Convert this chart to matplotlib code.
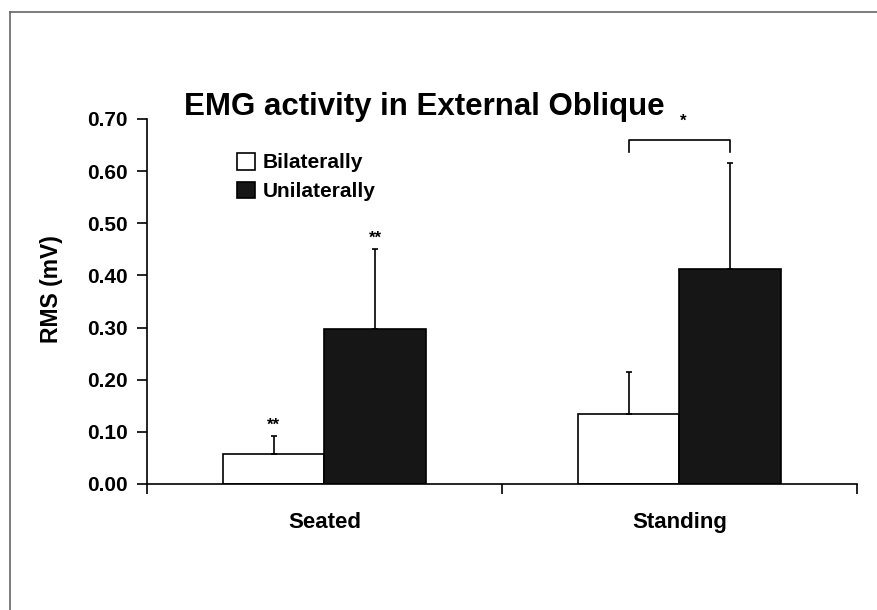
import matplotlib.pyplot as plt
import numpy as np
from matplotlib.lines import Line2D

plt.rcParams['font.family'] = ['Liberation Sans', 'DejaVu Sans']
plt.rcParams['font.weight'] = 'bold'

conditions = ['Seated', 'Standing']
groups = ['Bilaterally', 'Unilaterally']
bilateral = [0.057, 0.135]
unilateral = [0.297, 0.412]
bilateral_sd = [0.035, 0.080]
unilateral_sd = [0.154, 0.204]
yticks = [0.0, 0.1, 0.2, 0.3, 0.4, 0.5, 0.6, 0.7]

fig = plt.figure(figsize=(8.77, 6.10), dpi=100)
ax = fig.add_axes([0.1676, 0.2066, 0.8096, 0.5984])

# outer frame lines (left and top only)
fig.add_artist(Line2D([0.0114, 0.0114], [0.0, 0.9803], color='#666666', lw=1.2))
fig.add_artist(Line2D([0.0114, 1.0], [0.9803, 0.9803], color='#666666', lw=1.2))

centers = np.arange(len(conditions)) + 0.5
w = 0.285
x_bil = centers - w / 2
x_uni = centers + w / 2

b1 = ax.bar(x_bil, bilateral, w, color='white', edgecolor='black', lw=1.2, label=groups[0])
b2 = ax.bar(x_uni, unilateral, w, color='#161616', edgecolor='black', lw=1.2, label=groups[1])
ax.errorbar(x_bil, bilateral, yerr=[np.zeros(2), bilateral_sd], fmt='none',
            ecolor='black', elinewidth=1.2, capsize=2, capthick=1.2)
ax.errorbar(x_uni, unilateral, yerr=[np.zeros(2), unilateral_sd], fmt='none',
            ecolor='black', elinewidth=1.2, capsize=2, capthick=1.2)

# significance marks over the seated bars
tops_bil = np.array(bilateral) + np.array(bilateral_sd)
tops_uni = np.array(unilateral) + np.array(unilateral_sd)
ax.text(x_bil[0], tops_bil[0] + 0.006, '**', ha='center', va='bottom', fontsize=12)
ax.text(x_uni[0], tops_uni[0] + 0.006, '**', ha='center', va='bottom', fontsize=12)

# bracket between standing bars
yb = tops_uni[1] + 0.02
yt = yb + 0.023
ax.plot([x_bil[1], x_bil[1], x_uni[1], x_uni[1]], [yb, yt, yt, yb],
        color='black', lw=1.2, clip_on=False)
ax.text((x_bil[1] + x_uni[1]) / 2 + 0.01, yt + 0.022, '*', ha='center', va='bottom',
        fontsize=12, clip_on=False)

ax.set_xlim(0, 2)
ax.set_ylim(0, 0.7)
ax.set_yticks(yticks)
ax.set_yticklabels([f'{v:.2f}' for v in yticks])
ax.set_xticks([0, 1, 2])
ax.set_xticklabels([])
ax.set_xticks(centers, minor=True)
ax.set_xticklabels(conditions, minor=True, fontsize=16, fontweight='bold')
ax.tick_params(axis='x', which='minor', length=0, pad=20)
ax.tick_params(axis='x', which='major', direction='out', length=7, width=1.2)
ax.tick_params(axis='y', direction='out', length=7, width=1.2, labelsize=15, pad=7)

for s in ['top', 'right']:
    ax.spines[s].set_visible(False)
for s in ['left', 'bottom']:
    ax.spines[s].set_linewidth(1.2)

ax.set_ylabel('RMS (mV)', fontsize=16.5, fontweight='bold')
ax.yaxis.set_label_coords(-0.118, 0.534)

fig.text(0.484, 1 - 115 / 610, 'EMG activity in External Oblique', ha='center',
         va='baseline', fontsize=22.5, fontweight='bold')

ax.legend(handles=[b1, b2], loc='upper left', bbox_to_anchor=(0.1268, 0.907),
          frameon=False, fontsize=15, handlelength=0.85, handleheight=0.85,
          handletextpad=0.4, labelspacing=0.45, borderpad=0, borderaxespad=0)

fig.savefig('out.png', dpi=100)
